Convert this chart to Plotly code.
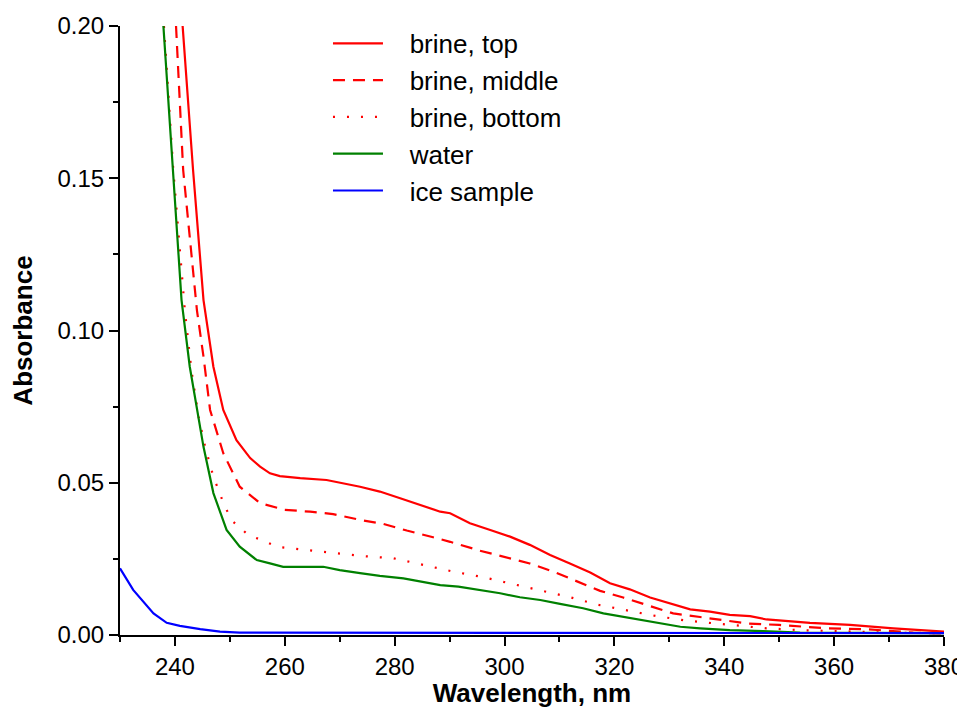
import plotly.graph_objects as go

# ---- data ----
top_x = [241.4, 243.3, 245.2, 247.0, 248.8, 251.2, 253.7, 255.5, 257.3, 259.1, 262.8, 267.6,
         273.7, 277.3, 281.0, 284.6, 288.3, 290.1, 293.7, 297.4, 301.0, 304.6, 308.3, 311.9,
         315.6, 319.2, 322.8, 326.5, 330.1, 333.8, 337.4, 341.0, 344.7, 347.7, 355.6, 362.9,
         370.8, 379.3, 380.0]
top_y = [0.200, 0.1527, 0.110, 0.0881, 0.0739, 0.064, 0.0581, 0.0553, 0.0531, 0.0522, 0.0515, 0.0509,
         0.0487, 0.0471, 0.0449, 0.0427, 0.0405, 0.0400, 0.0367, 0.0345, 0.0323, 0.0296, 0.0263, 0.0235,
         0.0205, 0.0170, 0.0150, 0.0123, 0.0104, 0.0084, 0.0077, 0.0066, 0.0062, 0.0051, 0.0040, 0.0033,
         0.0022, 0.0011, 0.0011]

mid_x = [240.2, 241.5, 244.0, 245.2, 246.4, 248.8, 251.8, 255.5, 260.0, 264.6, 268.8, 273.7,
         277.9, 282.2, 287.0, 290.1, 295.5, 299.8, 304.6, 308.9, 313.1, 317.4, 321.6, 325.9,
         330.7, 335.6, 339.8, 344.1, 350.0, 358.6, 365.9, 374.4, 380.0]
mid_y = [0.200, 0.1527, 0.1067, 0.0914, 0.0739, 0.0597, 0.0487, 0.0433, 0.0411, 0.0405, 0.0397, 0.0378,
         0.0365, 0.0343, 0.0321, 0.0306, 0.0277, 0.0257, 0.0235, 0.0208, 0.0178, 0.0145, 0.0123, 0.0099,
         0.0071, 0.0059, 0.0049, 0.0038, 0.0033, 0.0022, 0.0019, 0.0008, 0.0005]

bot_x = [238.0, 239.7, 241.8, 243.0, 244.3, 245.5, 247.0, 249.1, 250.6, 253.4, 256.1, 258.5,
         264.0, 269.4, 274.3, 279.8, 285.2, 290.7, 296.1, 301.0, 306.5, 311.9, 317.1, 322.5,
         327.7, 333.2, 338.3, 341.0, 347.7, 353.8, 359.9, 365.9, 372.0, 380.0]
bot_y = [0.200, 0.1527, 0.1067, 0.087, 0.0717, 0.0618, 0.052, 0.0421, 0.0372, 0.0328, 0.031, 0.029,
         0.0279, 0.0268, 0.0259, 0.0252, 0.023, 0.0208, 0.019, 0.017, 0.0148, 0.0124, 0.0099, 0.008,
         0.0062, 0.0047, 0.0038, 0.0033, 0.0022, 0.0016, 0.0014, 0.001, 0.0007, 0.0006]

water_x = [237.9, 239.6, 241.2, 242.7, 244.0, 245.2, 247.0, 249.4, 251.8, 254.9, 257.3, 259.7,
           267.0, 270.0, 273.7, 277.3, 281.6, 285.2, 288.3, 291.6, 294.9, 299.2, 302.8, 306.5,
           310.1, 314.3, 318.0, 322.2, 326.5, 332.0, 335.6, 341.0, 347.1, 353.8, 365.0, 380.0]
water_y = [0.200, 0.1527, 0.110, 0.0881, 0.0739, 0.0618, 0.0466, 0.0345, 0.029, 0.0246, 0.0235, 0.0224,
           0.0224, 0.0213, 0.0203, 0.0194, 0.0186, 0.0175, 0.0164, 0.0159, 0.015, 0.0137, 0.0124, 0.0115,
           0.0102, 0.0088, 0.0071, 0.0058, 0.0044, 0.0027, 0.0022, 0.0016, 0.0013, 0.0008, 0.0007, 0.0006]

ice_x = [230.0, 232.4, 236.1, 238.5, 240.9, 244.6, 248.2, 251.8, 380.0]
ice_y = [0.0219, 0.0148, 0.0071, 0.004, 0.003, 0.0019, 0.0011, 0.0008, 0.0006]

series_names = ["brine, top", "brine, middle", "brine, bottom", "water", "ice sample"]
x_tick_vals = [240, 260, 280, 300, 320, 340, 360, 380]
y_tick_vals = [0.00, 0.05, 0.10, 0.15, 0.20]

FONT = "Liberation Sans, Arial, sans-serif"
PAD = "\u00a0\u00a0\u00a0"  # small gap between legend sample line and label

series = [
    (top_x, top_y, "#FF0000", "solid"),
    (mid_x, mid_y, "#FF0000", "12px,8px"),
    (bot_x, bot_y, "#FF0000", "2px,12px"),
    (water_x, water_y, "#008000", "solid"),
    (ice_x, ice_y, "#0000FF", "solid"),
]

fig = go.Figure()
for (xs, ys, col, dash), name in zip(series, series_names):
    fig.add_trace(go.Scatter(
        x=xs, y=ys, mode="lines", name=PAD + name,
        line=dict(color=col, width=2.2, dash=dash),
    ))

axis_common = dict(
    showline=True, linecolor="black", linewidth=2, mirror=False,
    ticks="outside", ticklen=9, tickwidth=2, tickcolor="black",
    showgrid=False, zeroline=False, automargin=False,
    tickfont=dict(family=FONT, size=24, color="black"),
)

# the page body adds an 8px offset, so the figure is 8px smaller and margins shifted
fig.update_layout(
    width=957, height=700,
    margin=dict(l=112, r=21, t=18, b=73),
    paper_bgcolor="white", plot_bgcolor="white",
    font=dict(family=FONT, size=24, color="black"),
    showlegend=True,
    legend=dict(
        x=0.2524, y=1.01, xanchor="left", yanchor="top",
        bgcolor="rgba(0,0,0,0)", borderwidth=0,
        font=dict(family=FONT, size=26, color="black"),
        itemwidth=50,
    ),
    xaxis=dict(
        range=[230, 380], tickvals=x_tick_vals, ticktext=[str(v) for v in x_tick_vals],
        minor=dict(dtick=10, tick0=230, ticks="outside", ticklen=5, tickwidth=2, tickcolor="black"),
        title=dict(text="<b>Wavelength, nm</b>", font=dict(family=FONT, size=26), standoff=15),
        **axis_common,
    ),
    yaxis=dict(
        range=[0, 0.2], tickvals=y_tick_vals, ticktext=[f"{v:.2f}" for v in y_tick_vals],
        minor=dict(dtick=0.025, tick0=0, ticks="outside", ticklen=5, tickwidth=2, tickcolor="black"),
        title=dict(text="<b>Absorbance</b>", font=dict(family=FONT, size=26), standoff=17),
        **axis_common,
    ),
)

fig.write_html("out.html")
